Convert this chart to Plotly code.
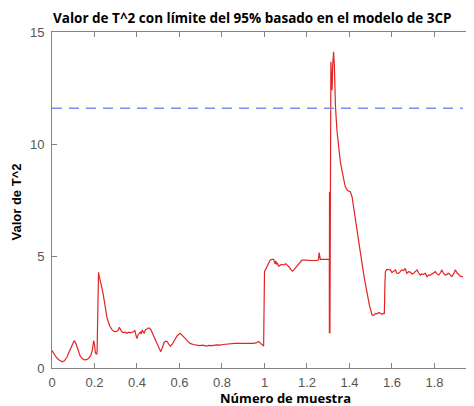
import plotly.graph_objects as go

# ---- data ----
sample = [
    0.000, 0.010, 0.020, 0.030, 0.040, 0.048, 0.058, 0.070, 0.082, 0.094,
    0.104, 0.112, 0.122, 0.132, 0.142, 0.152, 0.162, 0.172, 0.182, 0.190,
    0.196, 0.200, 0.204, 0.208, 0.212, 0.214, 0.216, 0.219, 0.222, 0.225,
    0.228, 0.232, 0.236, 0.241, 0.246, 0.252, 0.258, 0.265, 0.273, 0.283,
    0.294, 0.305, 0.312, 0.317, 0.322, 0.328, 0.336, 0.344, 0.352, 0.360,
    0.368, 0.376, 0.384, 0.390, 0.394, 0.399, 0.404, 0.410, 0.416, 0.420,
    0.425, 0.430, 0.434, 0.440, 0.446, 0.452, 0.458, 0.465, 0.472, 0.480,
    0.490, 0.500, 0.506, 0.512, 0.519, 0.527, 0.535, 0.542, 0.550, 0.557,
    0.565, 0.577, 0.590, 0.603, 0.615, 0.627, 0.638, 0.650, 0.665, 0.680,
    0.695, 0.710, 0.727, 0.740, 0.755, 0.774, 0.790, 0.805, 0.821, 0.840,
    0.860, 0.884, 0.905, 0.925, 0.947, 0.960, 0.972, 0.982, 0.990, 0.996,
    1.000, 1.010, 1.020, 1.027, 1.036, 1.043, 1.050, 1.053, 1.056, 1.060,
    1.066, 1.074, 1.082, 1.090, 1.100, 1.108, 1.117, 1.125, 1.132, 1.140,
    1.152, 1.160, 1.168, 1.176, 1.190, 1.208, 1.225, 1.247, 1.254, 1.257,
    1.260, 1.263, 1.280, 1.295, 1.305, 1.3055, 1.306, 1.3065, 1.307, 1.3075,
    1.308, 1.3125, 1.316, 1.318, 1.321, 1.325, 1.329, 1.334, 1.341, 1.349,
    1.357, 1.364, 1.372, 1.380, 1.391, 1.404, 1.412, 1.423, 1.435, 1.447,
    1.459, 1.470, 1.482, 1.494, 1.506, 1.514, 1.522, 1.530, 1.538, 1.546,
    1.553, 1.560, 1.564, 1.567, 1.569, 1.576, 1.584, 1.592, 1.600, 1.608,
    1.616, 1.623, 1.631, 1.639, 1.646, 1.655, 1.662, 1.670, 1.678, 1.686,
    1.694, 1.702, 1.710, 1.718, 1.725, 1.733, 1.740, 1.748, 1.757, 1.765,
    1.772, 1.780, 1.788, 1.796, 1.804, 1.812, 1.820, 1.828, 1.835, 1.843,
    1.851, 1.859, 1.867, 1.875, 1.882, 1.890, 1.898, 1.906, 1.914, 1.922,
    1.930, 1.934,
]
t2_value = [
    0.78, 0.62, 0.48, 0.38, 0.30, 0.28, 0.32, 0.48, 0.75, 1.05,
    1.22, 1.10, 0.80, 0.55, 0.42, 0.36, 0.37, 0.42, 0.55, 0.80,
    1.22, 1.05, 0.70, 0.62, 0.65, 2.50, 4.05, 4.27, 4.10, 3.90,
    3.85, 3.70, 3.55, 3.30, 3.00, 2.60, 2.29, 2.05, 1.85, 1.70,
    1.62, 1.63, 1.70, 1.82, 1.72, 1.62, 1.58, 1.60, 1.55, 1.60,
    1.57, 1.58, 1.62, 1.67, 1.50, 1.32, 1.45, 1.55, 1.62, 1.52,
    1.70, 1.60, 1.55, 1.72, 1.73, 1.78, 1.78, 1.72, 1.60, 1.40,
    1.18, 0.98, 0.82, 0.73, 0.90, 1.13, 1.20, 1.18, 1.05, 0.98,
    1.05, 1.25, 1.45, 1.55, 1.45, 1.32, 1.20, 1.10, 1.05, 1.03,
    1.00, 1.02, 0.98, 1.01, 1.00, 1.03, 1.02, 1.05, 1.07, 1.08,
    1.10, 1.10, 1.09, 1.10, 1.10, 1.12, 1.18, 1.10, 1.00, 0.98,
    4.30, 4.52, 4.75, 4.82, 4.85, 4.85, 4.65, 4.78, 4.62, 4.70,
    4.55, 4.58, 4.62, 4.60, 4.65, 4.58, 4.50, 4.38, 4.32, 4.40,
    4.55, 4.65, 4.75, 4.82, 4.82, 4.80, 4.80, 4.80, 4.83, 5.15,
    4.95, 4.85, 4.85, 4.83, 4.85, 1.55, 7.87, 1.60, 7.80, 1.70,
    1.55, 13.67, 13.00, 12.40, 13.50, 14.12, 13.45, 11.67, 10.60, 9.73,
    9.20, 8.84, 8.45, 8.10, 7.92, 7.87, 7.65, 6.90, 6.16, 5.40,
    4.67, 4.00, 3.33, 2.80, 2.37, 2.35, 2.44, 2.42, 2.48, 2.44,
    2.40, 2.44, 2.44, 3.80, 4.30, 4.40, 4.40, 4.38, 4.26, 4.32,
    4.38, 4.23, 4.22, 4.30, 4.38, 4.35, 4.45, 4.22, 4.30, 4.28,
    4.20, 4.23, 4.32, 4.38, 4.25, 4.15, 4.20, 4.18, 4.23, 4.08,
    4.15, 4.15, 4.20, 4.25, 4.30, 4.20, 4.15, 4.25, 4.38, 4.22,
    4.15, 4.18, 4.23, 4.15, 4.08, 4.20, 4.38, 4.25, 4.15, 4.10,
    4.08, 4.08,
]
limit_95 = 11.6
x_ticks = [0, 0.2, 0.4, 0.6, 0.8, 1, 1.2, 1.4, 1.6, 1.8]
y_ticks = [0, 5, 10, 15]

title_text = "Valor de T^2 con límite del 95% basado en el modelo de 3CP"
x_label = "Número de muestra"
y_label = "Valor de T^2"

# ---- figure ----
fig = go.Figure()
fig.add_trace(go.Scatter(
    x=sample, y=t2_value, mode="lines",
    line=dict(color="rgb(228,35,35)", width=1.2),
    showlegend=False, hoverinfo="skip",
))
fig.add_trace(go.Scatter(
    x=[sample[0], sample[-1]], y=[limit_95, limit_95], mode="lines",
    line=dict(color="rgb(125,140,245)", width=1.5, dash="10px,7px"),
    showlegend=False, hoverinfo="skip",
))

axis_gray = "rgb(130,130,130)"
tick_font = dict(family="Liberation Sans, Arial, sans-serif", size=13,
                 color="rgb(85,85,85)")

# the page body has an 8px margin, so the figure is 466x398 and starts at (8,8)
fig.update_layout(
    width=466, height=398,
    margin=dict(l=44, r=0, t=24, b=38),
    paper_bgcolor="white", plot_bgcolor="white",
    xaxis=dict(
        range=[0, 1.986], tickvals=x_ticks, ticktext=[str(v) for v in x_ticks],
        ticks="inside", ticklen=5, tickcolor=axis_gray, tickwidth=1,
        showline=True, linecolor=axis_gray, linewidth=1, mirror="ticks",
        showgrid=False, zeroline=False, tickfont=tick_font,
        ticklabelstandoff=2, automargin=False,
    ),
    yaxis=dict(
        range=[0, 15], tickvals=y_ticks,
        ticks="inside", ticklen=5, tickcolor=axis_gray, tickwidth=1,
        showline=True, linecolor=axis_gray, linewidth=1, mirror="ticks",
        showgrid=False, zeroline=False, tickfont=tick_font,
        ticklabelstandoff=4, automargin=False,
    ),
    annotations=[
        dict(text="<b>" + title_text + "</b>", xref="paper", yref="paper",
             x=0.474, y=1.042, xanchor="center", yanchor="middle",
             showarrow=False,
             font=dict(family="Open Sans, Lato, sans-serif", size=13.5, color="black")),
        dict(text="<b>" + x_label + "</b>", xref="paper", yref="paper",
             x=0.553, y=-0.09, xanchor="center", yanchor="middle",
             showarrow=False,
             font=dict(family="Open Sans, Lato, sans-serif", size=13, color="black")),
        dict(text="<b>" + y_label + "</b>", xref="paper", yref="paper",
             x=-0.083, y=0.4955, xanchor="center", yanchor="middle",
             textangle=-90, showarrow=False,
             font=dict(family="Liberation Sans, Arial, sans-serif", size=13, color="black")),
    ],
)

fig.write_html("out.html")
